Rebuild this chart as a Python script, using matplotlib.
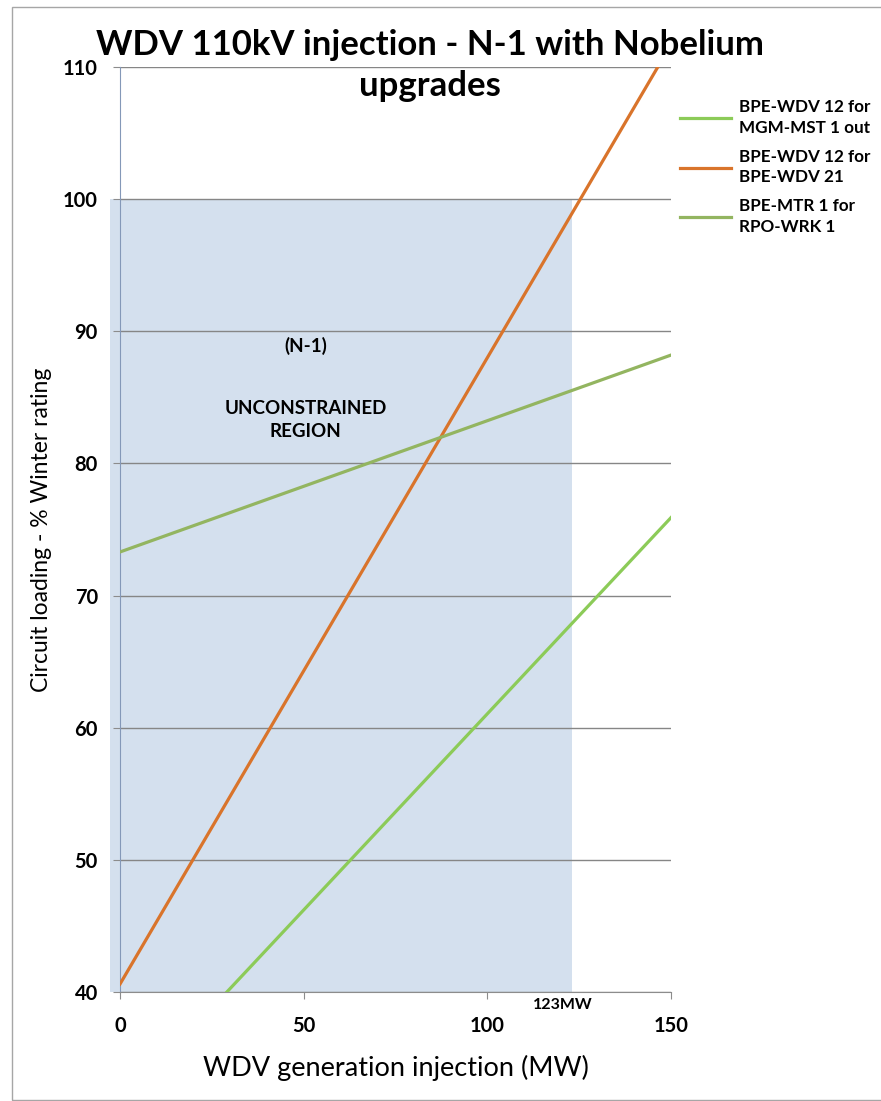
import matplotlib
matplotlib.use("Agg")
from matplotlib import pyplot as plt
from matplotlib.patches import Rectangle

plt.rcParams['font.family'] = ['Lato', 'DejaVu Sans']

# chart data
x_ends = [0, 150]
wdv21_loading = [40.6, 111.7]      # BPE-WDV 12 for BPE-WDV 21
rpo_wrk_loading = [73.3, 88.2]     # BPE-MTR 1 for RPO-WRK 1
mgm_x = [29.1, 150]
mgm_loading = [40.0, 75.9]         # BPE-WDV 12 for MGM-MST 1 out

region_x = [-2.7, 123]
region_y = [40, 100]
limit_mw = 123

y_ticks = [40, 50, 60, 70, 80, 90, 100, 110]
x_ticks = [0, 50, 100, 150]

W, H = 881, 1101
fig = plt.figure(figsize=(W / 100, H / 100), dpi=100)
ax = fig.add_axes([120 / W, 1 - 992 / H, 551 / W, 925 / H])

# unconstrained region shading
ax.add_patch(Rectangle((region_x[0], region_y[0]), region_x[1] - region_x[0],
                       region_y[1] - region_y[0], facecolor="#D4E0EE",
                       edgecolor="none", zorder=0, clip_on=False))

ax.plot(mgm_x, mgm_loading, color="#8CCB58", lw=2.3,
        label="BPE-WDV 12 for\nMGM-MST 1 out", zorder=3)
ax.plot(x_ends, wdv21_loading, color="#D9742B", lw=2.3,
        label="BPE-WDV 12 for\nBPE-WDV 21", zorder=3)
ax.plot(x_ends, rpo_wrk_loading, color="#93B560", lw=2.3,
        label="BPE-MTR 1 for\nRPO-WRK 1", zorder=3)

ax.set_xlim(0, 150)
ax.set_ylim(40, 110)
ax.set_xticks(x_ticks)
ax.set_yticks(y_ticks)
ax.set_facecolor("none")
ax.grid(axis="y", color="#868686", lw=1, zorder=1)
ax.set_axisbelow(True)

for s in ["top", "right"]:
    ax.spines[s].set_visible(False)
ax.spines["left"].set_color("#8498B8")
ax.spines["bottom"].set_color("#8C8C8C")
ax.tick_params(axis="x", direction="out", length=5, color="#8C8C8C",
               pad=12, labelsize=14.5)
ax.tick_params(axis="y", direction="out", length=5, color="#8C8C8C",
               pad=11, labelsize=14.5)
for lbl in ax.get_xticklabels() + ax.get_yticklabels():
    lbl.set_fontweight("bold")

ax.set_xlabel("WDV generation injection (MW)", fontsize=19.5, va="center")
ax.xaxis.set_label_coords(0.5, (992 - 1068) / 925)
ax.set_ylabel("Circuit loading - % Winter rating", fontsize=16.5, va="center")
ax.yaxis.set_label_coords((42 - 120) / 551, 0.5)

ax.text(50.6, 88.9, "(N-1)", ha="center", va="center", fontsize=13.5,
        fontweight="bold")
ax.text(50.6, 83.3, "UNCONSTRAINED\nREGION", ha="center", va="center",
        fontsize=13.5, fontweight="bold", linespacing=1.45)
ax.text(limit_mw - 2.5, 39.0, f"{limit_mw}MW", ha="center", va="center",
        fontsize=11.5, fontweight="bold", clip_on=False)

fig.text(430 / W, 1 - 45 / H, "WDV 110kV injection - N-1 with Nobelium",
         ha="center", va="center", fontsize=25, fontweight="bold")
fig.text(430 / W, 1 - 86 / H, "upgrades", ha="center", va="center",
         fontsize=25, fontweight="bold")

ax.legend(loc="upper left", bbox_to_anchor=(1.016, 0.965), frameon=False,
          borderpad=0, borderaxespad=0, handlelength=3.0, handletextpad=0.45,
          labelspacing=0.75, prop={"size": 12.3, "weight": "bold"})
for t in ax.get_legend().get_texts():
    t.set_linespacing(1.35)

# chart area border
fig.add_artist(Rectangle((12 / W, 1 / H), 1.1, 1 - 8 / H,
                         transform=fig.transFigure, facecolor="none",
                         edgecolor="#A6A6A6", lw=1))

fig.savefig("out.png", dpi=100)
